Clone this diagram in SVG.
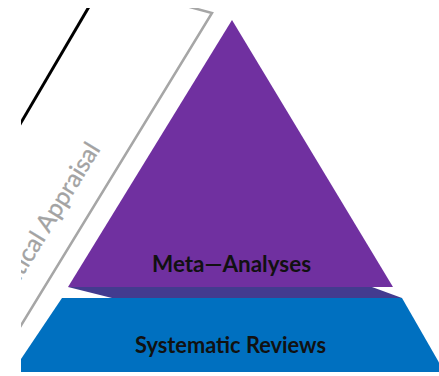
<svg xmlns="http://www.w3.org/2000/svg" width="439" height="376" viewBox="0 0 439 376">
  <defs>
    <clipPath id="frame">
      <rect x="21" y="8" width="418" height="364"/>
    </clipPath>
    <style>
      .tier-label { font-family: Lato, "Open Sans", "Liberation Sans", sans-serif; font-weight: bold; fill: #111111; text-anchor: middle; }
      .band-label { font-family: Lato, "Open Sans", "Liberation Sans", sans-serif; fill: #a3a3a3; text-anchor: end; }
    </style>
  </defs>
  <rect width="439" height="376" fill="#ffffff"/>
  <g clip-path="url(#frame)">
    <!-- side band: black rule, grey bracket and its rotated caption -->
    <g id="appraisal-band">
      <line x1="90" y1="5" x2="19" y2="126" stroke="#000000" stroke-width="3"/>
      <polyline points="186,6 212,13 20,327" fill="none" stroke="#a6a6a6" stroke-width="2.5"/>
      <text class="band-label" font-size="24.5" stroke="#a3a3a3" stroke-width="0.3" transform="translate(101,149) rotate(-58.5)">Critical Appraisal</text>
    </g>
    <!-- lower tier -->
    <g id="systematic-reviews">
      <polygon points="62,298 402,298 441,366 441,374 19,374 19,362" fill="#0070c0"/>
      <text class="tier-label" x="230.5" y="353" font-size="23" textLength="191" lengthAdjust="spacingAndGlyphs">Systematic Reviews</text>
    </g>
    <!-- upper tier: pyramid face with its shaded underside -->
    <g id="meta-analyses">
      <polygon points="68,287 372,287 402,298 112,298" fill="#433b8f"/>
      <polygon points="232,20 393,287 68,287" fill="#7030a0"/>
      <text class="tier-label" x="231.5" y="272" font-size="23" textLength="159" lengthAdjust="spacingAndGlyphs">Meta—Analyses</text>
    </g>
  </g>
</svg>
